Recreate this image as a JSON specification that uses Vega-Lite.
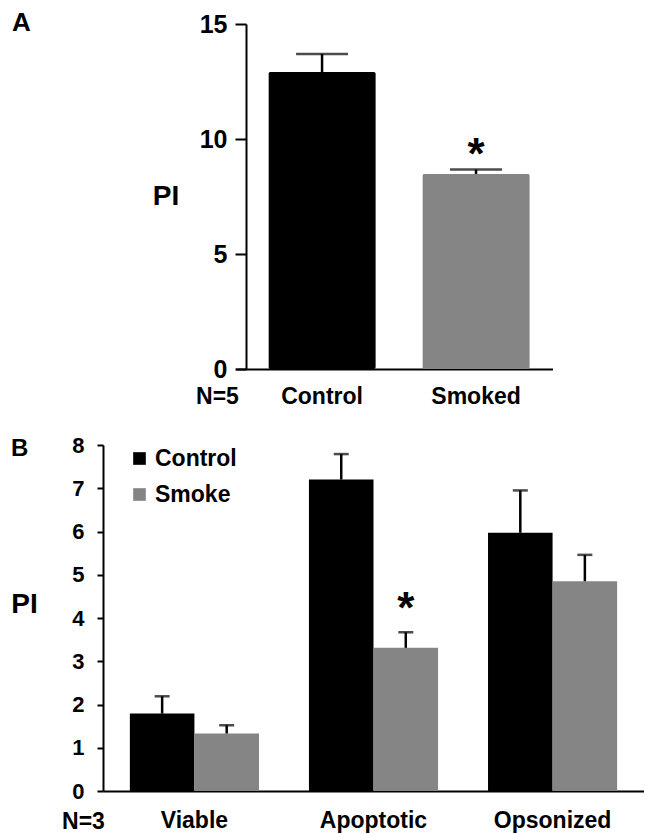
{
  "$schema": "https://vega.github.io/schema/vega-lite/v6.json",
  "padding": {"left": 10, "top": 10, "right": 0, "bottom": 0},
  "background": "white",
  "spacing": 26,
  "config": {
    "view": {"stroke": null},
    "font": "Liberation Sans, Arial, sans-serif",
    "axis": {
      "labelFont": "Liberation Sans, Arial, sans-serif",
      "labelFontWeight": "bold",
      "labelColor": "#000000",
      "titleFont": "Liberation Sans, Arial, sans-serif",
      "titleFontWeight": "bold",
      "titleColor": "#000000",
      "domainColor": "#000000",
      "tickColor": "#000000",
      "domainWidth": 2,
      "tickWidth": 2,
      "grid": false
    },
    "title": {"font": "Liberation Sans, Arial, sans-serif", "fontWeight": "bold", "color": "#000000"}
  },
  "resolve": {"scale": {"color": "independent", "x": "independent", "y": "independent", "xOffset": "independent"}},
  "vconcat": [
    {
      "width": 450,
      "height": 345,
      "title": {"text": "A", "fontSize": 26, "anchor": "start", "frame": "group", "dx": -91, "dy": 24, "offset": 0},
      "data": {"values": [
        {"group": "Control", "value": 12.91, "upper": 13.7, "sig": ""},
        {"group": "Smoked", "value": 8.48, "upper": 8.67, "sig": "*"}
      ]},
      "encoding": {
        "x": {
          "field": "group", "type": "nominal",
          "scale": {"domain": ["Control", "Smoked"], "range": [132.6, 449.5], "paddingInner": 0.302, "paddingOuter": 0.18, "align": 0.59},
          "axis": {"title": "N=5", "labelAngle": 0, "labelFontSize": 23, "labelBaseline": "alphabetic", "labelPadding": 34, "ticks": false, "tickSize": 0, "titleFontSize": 23, "titleX": 114, "titleY": 34, "titleAlign": "center", "titleBaseline": "alphabetic"}
        }
      },
      "layer": [
        {
          "mark": {"type": "bar", "cornerRadius": 2},
          "encoding": {
            "y": {"field": "value", "type": "quantitative", "title": "PI", "scale": {"domain": [0, 15], "nice": false},
              "axis": {"values": [0, 5, 10, 15], "labelFontSize": 25, "labelPadding": 8, "tickSize": 11, "offset": -143, "titleAngle": 0, "titleFontSize": 28, "titleX": -80.5, "titleY": 172, "titleAlign": "center", "titleBaseline": "middle"}},
            "color": {"field": "group", "type": "nominal", "scale": {"domain": ["Control", "Smoked"], "range": ["#000000", "#858585"]}, "legend": null}
          }
        },
        {
          "mark": {"type": "rule", "strokeWidth": 2.5, "color": "#000000"},
          "encoding": {
            "y": {"field": "value", "type": "quantitative", "title": "PI", "scale": {"domain": [0, 15], "nice": false},
              "axis": {"values": [0, 5, 10, 15], "labelFontSize": 25, "labelPadding": 8, "tickSize": 11, "offset": -143, "titleAngle": 0, "titleFontSize": 28, "titleX": -80.5, "titleY": 172, "titleAlign": "center", "titleBaseline": "middle"}},
            "y2": {"field": "upper"}
          }
        },
        {
          "mark": {"type": "tick", "thickness": 2.5, "size": 52, "color": "#000000"},
          "encoding": {
            "y": {"field": "upper", "type": "quantitative", "title": "PI", "scale": {"domain": [0, 15], "nice": false},
              "axis": {"values": [0, 5, 10, 15], "labelFontSize": 25, "labelPadding": 8, "tickSize": 11, "offset": -143, "titleAngle": 0, "titleFontSize": 28, "titleX": -80.5, "titleY": 172, "titleAlign": "center", "titleBaseline": "middle"}}
          }
        },
        {
          "transform": [{"filter": "datum.sig == '*'"}],
          "mark": {"type": "text", "fontSize": 44, "fontWeight": "bold", "baseline": "alphabetic", "dy": -1, "color": "#000000"},
          "encoding": {
            "y": {"field": "upper", "type": "quantitative", "title": "PI", "scale": {"domain": [0, 15], "nice": false},
              "axis": {"values": [0, 5, 10, 15], "labelFontSize": 25, "labelPadding": 8, "tickSize": 11, "offset": -143, "titleAngle": 0, "titleFontSize": 28, "titleX": -80.5, "titleY": 172, "titleAlign": "center", "titleBaseline": "middle"}},
            "text": {"field": "sig"}
          }
        }
      ]
    },
    {
      "width": 541,
      "height": 346,
      "title": {"text": "B", "fontSize": 24, "anchor": "start", "frame": "group", "dx": -92, "dy": 27, "offset": 0},
      "data": {"values": [
        {"cell": "Viable", "group": "Control", "value": 1.79, "upper": 2.19, "sig": ""},
        {"cell": "Viable", "group": "Smoke", "value": 1.33, "upper": 1.52, "sig": ""},
        {"cell": "Apoptotic", "group": "Control", "value": 7.2, "upper": 7.79, "sig": ""},
        {"cell": "Apoptotic", "group": "Smoke", "value": 3.31, "upper": 3.67, "sig": "*"},
        {"cell": "Opsonized", "group": "Control", "value": 5.97, "upper": 6.95, "sig": ""},
        {"cell": "Opsonized", "group": "Smoke", "value": 4.85, "upper": 5.46, "sig": ""}
      ]},
      "encoding": {
        "x": {
          "field": "cell", "type": "nominal",
          "scale": {"domain": ["Viable", "Apoptotic", "Opsonized"], "paddingInner": 0.279, "paddingOuter": 0.15},
          "axis": {"title": "N=3", "labelAngle": 0, "labelFontSize": 23, "labelBaseline": "alphabetic", "labelPadding": 36, "ticks": false, "tickSize": 0, "titleFontSize": 23, "titleX": -20, "titleY": 37, "titleAlign": "center", "titleBaseline": "alphabetic"}
        },
        "xOffset": {"field": "group", "type": "nominal", "scale": {"domain": ["Control", "Smoke"], "paddingInner": 0, "paddingOuter": 0}}
      },
      "layer": [
        {
          "mark": {"type": "bar"},
          "encoding": {
            "y": {"field": "value", "type": "quantitative", "title": "PI", "scale": {"domain": [0, 8], "nice": false},
              "axis": {"values": [0, 1, 2, 3, 4, 5, 6, 7, 8], "labelFontSize": 22, "labelPadding": 13, "tickSize": 6, "titleAngle": 0, "titleFontSize": 28, "titleX": -79, "titleY": 159.5, "titleAlign": "center", "titleBaseline": "middle"}},
            "color": {"field": "group", "type": "nominal", "scale": {"domain": ["Control", "Smoke"], "range": ["#000000", "#858585"]},
              "legend": {"title": null, "orient": "none", "legendX": 25, "legendY": 2, "symbolType": "square", "symbolSize": 160, "symbolStrokeWidth": 0, "symbolOpacity": 1, "labelFontSize": 23, "labelFont": "Liberation Sans, Arial, sans-serif", "labelFontWeight": "bold", "labelColor": "#000000", "rowPadding": 12, "labelOffset": 4}}
          }
        },
        {
          "mark": {"type": "rule", "strokeWidth": 2.5, "color": "#000000"},
          "encoding": {
            "y": {"field": "value", "type": "quantitative", "title": "PI", "scale": {"domain": [0, 8], "nice": false},
              "axis": {"values": [0, 1, 2, 3, 4, 5, 6, 7, 8], "labelFontSize": 22, "labelPadding": 13, "tickSize": 6, "titleAngle": 0, "titleFontSize": 28, "titleX": -79, "titleY": 159.5, "titleAlign": "center", "titleBaseline": "middle"}},
            "y2": {"field": "upper"}
          }
        },
        {
          "mark": {"type": "tick", "thickness": 2.5, "size": 15, "color": "#000000"},
          "encoding": {
            "y": {"field": "upper", "type": "quantitative", "title": "PI", "scale": {"domain": [0, 8], "nice": false},
              "axis": {"values": [0, 1, 2, 3, 4, 5, 6, 7, 8], "labelFontSize": 22, "labelPadding": 13, "tickSize": 6, "titleAngle": 0, "titleFontSize": 28, "titleX": -79, "titleY": 159.5, "titleAlign": "center", "titleBaseline": "middle"}}
          }
        },
        {
          "transform": [{"filter": "datum.sig == '*'"}],
          "mark": {"type": "text", "fontSize": 44, "fontWeight": "bold", "baseline": "alphabetic", "dy": -9, "color": "#000000"},
          "encoding": {
            "y": {"field": "upper", "type": "quantitative", "title": "PI", "scale": {"domain": [0, 8], "nice": false},
              "axis": {"values": [0, 1, 2, 3, 4, 5, 6, 7, 8], "labelFontSize": 22, "labelPadding": 13, "tickSize": 6, "titleAngle": 0, "titleFontSize": 28, "titleX": -79, "titleY": 159.5, "titleAlign": "center", "titleBaseline": "middle"}},
            "text": {"field": "sig"}
          }
        }
      ]
    }
  ]
}
